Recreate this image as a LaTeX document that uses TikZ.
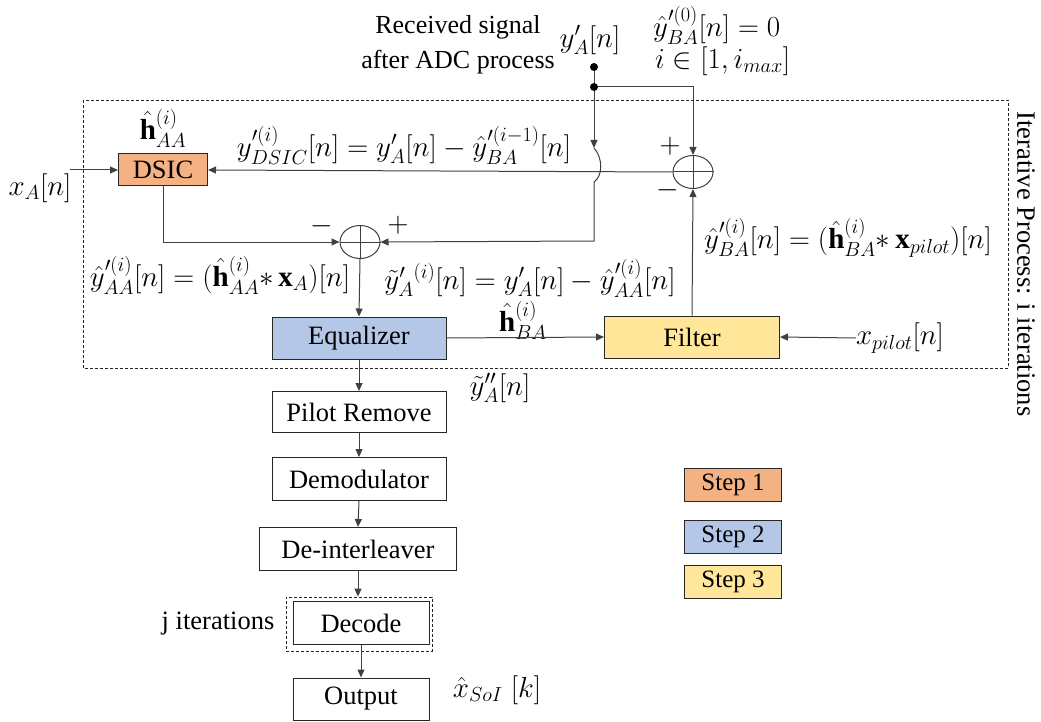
\documentclass[tikz,border=0pt]{standalone}
\usepackage{fix-cm}
\usepackage{amsmath}
\usepackage{fontspec}
\setmainfont{Liberation Serif}
\usetikzlibrary{arrows.meta,shapes.geometric}

\definecolor{stepone}{HTML}{F4B183}
\definecolor{steptwo}{HTML}{B4C7E7}
\definecolor{stepthree}{HTML}{FFE699}
\definecolor{wire}{HTML}{404040}

\tikzset{
  blk/.style={draw=black!85, line width=1pt, minimum height=42, inner sep=0pt},
  sumnode/.style={ellipse, draw=wire, line width=1pt, minimum width=40, minimum height=33, inner sep=0pt},
  stepbox/.style={draw=black!85, line width=1pt, minimum width=97, minimum height=33, inner sep=0pt},
  wireto/.style={draw=wire, line width=1pt, -{Triangle[length=8pt,width=7pt]}},
  wire/.style={draw=wire, line width=1pt},
  dot/.style={circle, fill=black, inner sep=0pt, minimum size=8},
  lbl/.style={inner sep=0pt},
  mlbl/.style={inner sep=0pt, font=\fontsize{29}{33}\selectfont},
  frame/.style={draw=black!85, line width=0.8pt, dash pattern=on 3pt off 2pt},
}

\begin{document}
\begin{tikzpicture}[x=1pt, y=-1pt, font=\fontsize{26.5}{31}\selectfont]
        \useasboundingbox (0,0) rectangle (1041,722);

        % Iterative process frame
        \draw[frame] (83,100) rectangle (1008,368);
        \node[lbl, rotate=-90] (iterlbl) at (1026,264) {Iterative Process: i iterations};

        % Step 1: DSIC
        \node[blk, fill=stepone, minimum width=89, minimum height=32] (dsic) at (163,170) {DSIC};
        \node[mlbl] (hAA) at (163,128) {$\hat{\mathbf{h}}^{(i)}_{AA}$};
        \coordinate (xin) at (70,170);
        \node[mlbl] (xA) at (40,188) {$x_A[n]$};

        % Adders
        \node[sumnode] (sumtop) at (693,172) {};
        \node[sumnode] (sumbot) at (360,242) {};
        \foreach \s in {sumtop,sumbot} {
            \draw[wire] (\s.north) -- (\s.south) (\s.west) -- (\s.east);
        }
        \node[mlbl] (ptop) at (670,146) {$+$};
        \node[mlbl] (mtop) at (668,190) {$-$};
        \node[mlbl] (mbot) at (322,226) {$-$};
        \node[mlbl] (pbot) at (398,225) {$+$};

        % Step 2 and 3: Equalizer and Filter
        \node[blk, fill=steptwo, minimum width=174] (eq) at (359,338) {Equalizer};
        \node[blk, fill=stepthree, minimum width=175] (filt) at (692,337) {Filter};
        \node[mlbl] (xpilot) at (900,338) {$x_{pilot}[n]$};

        % Received signal input
        \node[lbl, align=center, font=\fontsize{26}{35}\selectfont] (rxlbl) at (458,45) {Received signal\\after ADC process};
        \node[mlbl] (yA) at (590,40) {$y'_A[n]$};
        \node[dot] (dot1) at (594,67) {};
        \node[dot] (dot2) at (594,87) {};
        \node[mlbl, anchor=west] (init0) at (653,25) {$\hat{y}'^{(0)}_{BA}[n] = 0$};
        \node[mlbl, anchor=west] (init1) at (655,61) {$i \in [1, i_{max}]$};
        \coordinate (hopa) at (594,148);
        \coordinate (hopb) at (594,182);
        \coordinate (turn) at (594,241);

        % Signal labels
        \node[mlbl] (yDSIC) at (404,145) {$y'^{(i)}_{DSIC}[n] = y'_A[n] - \hat{y}'^{(i-1)}_{BA}[n]$};
        \node[mlbl] (yAAhat) at (220,275) {$\hat{y}'^{(i)}_{AA}[n] = (\hat{\mathbf{h}}^{(i)}_{AA}{*}\,\mathbf{x}_A)[n]$};
        \node[mlbl] (ytA) at (530,278) {$\tilde{y}'_{A}{}^{(i)}[n] = y'_A[n] - \hat{y}'^{(i)}_{AA}[n]$};
        \node[mlbl] (hBA) at (523,320) {$\hat{\mathbf{h}}^{(i)}_{BA}$};
        \node[mlbl] (yBAhat) at (848,238) {$\hat{y}'^{(i)}_{BA}[n] = (\hat{\mathbf{h}}^{(i)}_{BA}{*}\,\mathbf{x}_{pilot})[n]$};

        % Iterative loop connections
        \draw[wireto] (xin) -- (dsic.west);
        \draw[wireto] (sumtop.west) -- (dsic.east);
        \draw[wireto] (dsic.south) |- (sumbot.west);
        \draw[wire] (dot1) -- (dot2);
        \draw[wireto] (dot2) -| (sumtop.north);
        \draw[wireto] (dot2) -- (hopa);
        \draw[wire] (hopa) .. controls (603,158) and (603,176) .. (hopb);
        \draw[wireto] (hopb) -- (turn) -- (sumbot.east);
        \draw[wireto] (sumbot.south) -- (eq.north);
        \draw[wireto] (eq.east) -- (filt.west);
        \draw[wireto] (filt.north) -- (sumtop.south);
        \draw[wireto] (xpilot.west) -- (filt.east);

        % Receiver chain
        \node[blk, minimum width=174, minimum height=41] (pilot) at (359,412) {Pilot Remove};
        \node[blk, minimum width=174, minimum height=43] (demod) at (359,479) {Demodulator};
        \node[blk, minimum width=197, minimum height=43] (deint) at (358,549) {De-interleaver};
        \node[frame, minimum width=146, minimum height=54, inner sep=0pt] (decbox) at (359,624) {};
        \node[blk, minimum width=136, minimum height=43] (decode) at (361,623) {Decode};
        \node[blk, minimum width=136, minimum height=42] (output) at (361,699) {Output};
        \node[mlbl] (ytt) at (500,388) {$\tilde{y}''_A[n]$};
        \node[lbl] (jit) at (218,624) {j iterations};
        \node[mlbl] (xsoi) at (497,690) {$\hat{x}_{SoI}\;[k]$};

        \draw[wireto] (eq.south) -- (pilot.north);
        \draw[wireto] (pilot.south) -- (demod.north);
        \draw[wireto] (demod.south) -- (deint.north);
        \draw[wireto] (deint.south) -- (deint.south |- decbox.north);
        \draw[wireto] (decode.south) -- (output.north);

        % Legend
        \foreach \n/\c/\y in {1/stepone/485, 2/steptwo/537, 3/stepthree/582} {
            \node[stepbox, fill=\c, font=\fontsize{25}{30}\selectfont] (step\n) at (733,\y) {Step \n};
        }
\end{tikzpicture}
\end{document}
